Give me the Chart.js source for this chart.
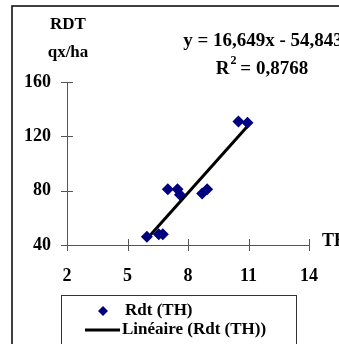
<!DOCTYPE html>
<html>
<head>
<meta charset="utf-8">
<script src="https://cdn.jsdelivr.net/npm/chart.js@4"></script>
<style>
  html, body { margin: 0; padding: 0; background: #fff; }
  #wrap { width: 339px; height: 344px; position: relative; }
</style>
</head>
<body>
<div id="wrap"><canvas id="rdtChart" width="339" height="344"></canvas></div>
<script>
// Data: TH (x) vs RDT qx/ha (y)
const thValues = [5.96, 6.55, 6.75, 7.0, 7.48, 7.6, 8.7, 8.95, 10.5, 10.95];
const rdtValues = [46, 48, 48, 81, 81, 77, 78, 81, 131, 130];
const xTicks = [2, 5, 8, 11, 14];
const yTicks = [40, 80, 120, 160];
// trend line coefficients as printed on the chart
const slope = 16.649;
const intercept = -54.843;

const font = "'Liberation Serif', 'Times New Roman', serif";

const points = thValues.map((x, i) => ({ x: x, y: rdtValues[i] }));
const xMin = Math.min(...thValues);
const xMax = Math.max(...thValues);
const trend = [
    { x: xMin, y: slope * xMin + intercept },
    { x: xMax, y: slope * xMax + intercept }
];

// draws the frame, titles, equation, tick marks and legend
const decorations = {
    id: 'decorations',
    afterDraw(chart) {
        const c = chart.ctx;
        const xs = chart.scales.x;
        const ys = chart.scales.y;
        c.save();

        // outer frame (runs off the picture on right and bottom)
        c.strokeStyle = '#000';
        c.lineWidth = 1.5;
        c.strokeRect(12, 6, 400, 400);

        // tick marks crossing the axes
        c.strokeStyle = '#555';
        c.lineWidth = 1;
        yTicks.forEach(v => {
            const py = Math.round(ys.getPixelForValue(v)) + 0.5;
            c.beginPath();
            c.moveTo(xs.left - 6, py);
            c.lineTo(xs.left + 6, py);
            c.stroke();
        });
        xTicks.forEach(v => {
            const px = Math.round(xs.getPixelForValue(v)) + 0.5;
            c.beginPath();
            c.moveTo(px, ys.bottom - 6);
            c.lineTo(px, ys.bottom + 6);
            c.stroke();
        });

        c.fillStyle = '#000';
        c.textBaseline = 'middle';

        // y axis title
        c.font = 'bold 17px ' + font;
        c.textAlign = 'center';
        c.fillText('RDT', 68, 25);
        c.fillText('qx/ha', 68, 53);

        // x axis title
        c.font = 'bold 18px ' + font;
        c.textAlign = 'left';
        c.fillText('TH', 322, 241);

        // equation
        c.font = 'bold 19px ' + font;
        c.textAlign = 'center';
        c.fillText('y = 16,649x - 54,843', 263, 41);
        const rText = 'R';
        const restText = ' = 0,8768';
        const wR = c.measureText(rText).width;
        const wRest = c.measureText(restText).width;
        c.font = 'bold 12px ' + font;
        const wSup = c.measureText('2').width;
        const total = wR + wSup + wRest;
        const sx = 262 - total / 2;
        c.textAlign = 'left';
        c.font = 'bold 19px ' + font;
        c.fillText(rText, sx, 69);
        c.font = 'bold 12px ' + font;
        c.fillText('2', sx + wR + 1, 61);
        c.font = 'bold 19px ' + font;
        c.fillText(restText, sx + wR + wSup, 69);

        // legend box
        c.strokeStyle = '#333';
        c.lineWidth = 1;
        c.strokeRect(61.5, 295.5, 235, 100);

        c.fillStyle = '#000080';
        c.beginPath();
        c.moveTo(103, 306);
        c.lineTo(108, 311);
        c.lineTo(103, 316);
        c.lineTo(98, 311);
        c.closePath();
        c.fill();

        c.strokeStyle = '#000';
        c.lineWidth = 3;
        c.beginPath();
        c.moveTo(85, 330);
        c.lineTo(120, 330);
        c.stroke();

        c.fillStyle = '#000';
        c.font = 'bold 17px ' + font;
        c.textAlign = 'left';
        c.fillText('Rdt (TH)', 125, 311);
        c.fillText('Linéaire (Rdt (TH))', 122, 330);

        c.restore();
    }
};

const ctx = document.getElementById('rdtChart').getContext('2d');
new Chart(ctx, {
    type: 'scatter',
    data: {
        datasets: [{
            label: 'Rdt (TH)',
            data: points,
            pointStyle: 'rectRot',
            pointRadius: 6,
            backgroundColor: '#000080',
            borderColor: '#000080',
            borderWidth: 0
        }, {
            label: 'Linéaire (Rdt (TH))',
            type: 'line',
            data: trend,
            borderColor: '#000',
            borderWidth: 3,
            pointRadius: 0,
            fill: false
        }]
    },
    options: {
        responsive: false,
        animation: false,
        layout: { padding: { left: 0, top: 82, right: 29, bottom: 59 } },
        plugins: {
            legend: { display: false },
            tooltip: { enabled: false }
        },
        scales: {
            x: {
                type: 'linear',
                min: 2,
                max: 14,
                afterFit(scale) { scale.height = 40; },
                afterBuildTicks(scale) { scale.ticks = xTicks.map(v => ({ value: v })); },
                grid: { display: false, drawTicks: false },
                border: { display: true, color: '#555', width: 1 },
                ticks: {
                    padding: 21,
                    color: '#000',
                    font: { family: font, size: 18, weight: 'bold' }
                }
            },
            y: {
                min: 40,
                max: 160,
                afterFit(scale) { scale.width = 67; },
                afterBuildTicks(scale) { scale.ticks = yTicks.map(v => ({ value: v })); },
                grid: { display: false, drawTicks: false },
                border: { display: true, color: '#555', width: 1 },
                ticks: {
                    padding: 16,
                    color: '#000',
                    font: { family: font, size: 18, weight: 'bold' }
                }
            }
        }
    },
    plugins: [decorations]
});
</script>
</body>
</html>
